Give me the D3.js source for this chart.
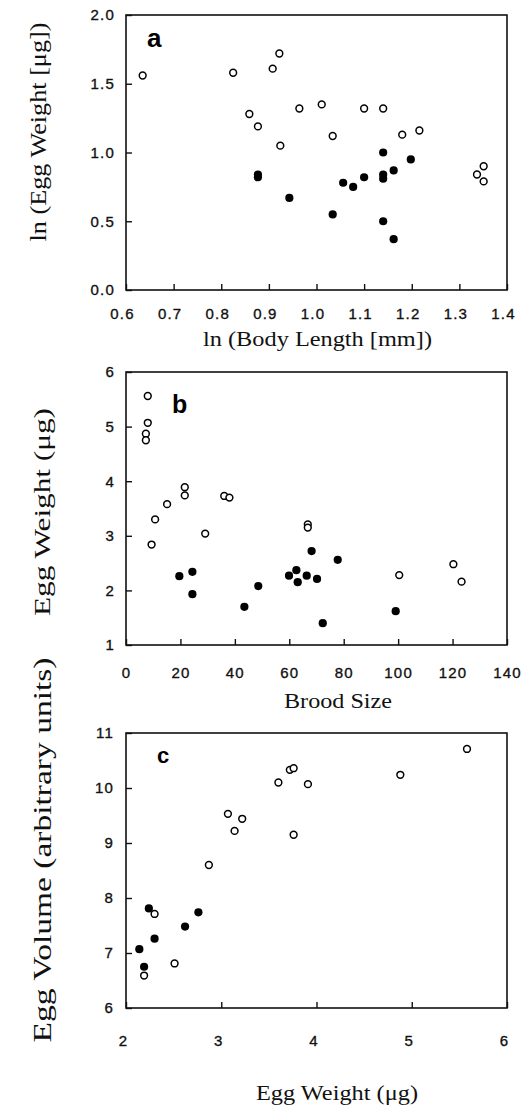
<!DOCTYPE html>
<html>
<head>
<meta charset="utf-8">
<script src="https://cdn.jsdelivr.net/npm/d3@7"></script>
<style>
  body { margin: 0; background: #fff; }
  svg { display: block; }
</style>
</head>
<body>
<svg id="fig" width="524" height="1109"></svg>
<script>
// ---- Panel a: ln(egg weight) against ln(body length) ----
const aOpenX   = [0.635, 0.825, 0.908, 0.922, 0.859, 0.877, 0.924, 0.964, 1.011, 1.034, 1.100, 1.140, 1.180, 1.216, 1.337, 1.351, 1.351];
const aOpenY   = [1.56, 1.58, 1.61, 1.72, 1.28, 1.19, 1.05, 1.32, 1.35, 1.12, 1.32, 1.32, 1.13, 1.16, 0.84, 0.90, 0.79];
const aFilledX = [0.877, 0.877, 0.943, 1.034, 1.056, 1.077, 1.100, 1.140, 1.140, 1.140, 1.140, 1.162, 1.162, 1.198];
const aFilledY = [0.84, 0.82, 0.67, 0.55, 0.78, 0.75, 0.82, 1.00, 0.84, 0.81, 0.50, 0.87, 0.37, 0.95];
const aXTicks  = [0.6, 0.7, 0.8, 0.9, 1.0, 1.1, 1.2, 1.3, 1.4];
const aYTicks  = [0.0, 0.5, 1.0, 1.5, 2.0];

// ---- Panel b: egg weight against brood size ----
const bOpenX   = [8, 8, 7.3, 7.3, 9.4, 10.7, 15.1, 21.6, 21.6, 29.1, 36.1, 38.0, 66.8, 66.8, 100.4, 120.3, 123.3];
const bOpenY   = [5.56, 5.07, 4.87, 4.75, 2.84, 3.30, 3.58, 3.89, 3.74, 3.04, 3.73, 3.70, 3.21, 3.15, 2.28, 2.48, 2.16];
const bFilledX = [19.6, 24.4, 24.4, 43.5, 48.6, 59.9, 62.6, 63.1, 66.4, 68.2, 70.2, 72.3, 77.8, 99.1];
const bFilledY = [2.26, 2.34, 1.93, 1.70, 2.08, 2.27, 2.37, 2.15, 2.27, 2.72, 2.21, 1.40, 2.56, 1.62];
const bXTicks  = [0, 20, 40, 60, 80, 100, 120, 140];
const bYTicks  = [1, 2, 3, 4, 5, 6];

// ---- Panel c: egg volume against egg weight ----
const cOpenX   = [5.58, 4.88, 3.72, 3.76, 3.60, 3.91, 3.07, 3.22, 3.14, 3.76, 2.87, 2.30, 2.51, 2.19];
const cOpenY   = [10.71, 10.24, 10.33, 10.36, 10.10, 10.07, 9.53, 9.44, 9.22, 9.15, 8.60, 7.71, 6.81, 6.59];
const cFilledX = [2.24, 2.30, 2.14, 2.19, 2.62, 2.76];
const cFilledY = [7.81, 7.26, 7.07, 6.75, 7.48, 7.74];
const cXTicks  = [2, 3, 4, 5, 6];
const cYTicks  = [6, 7, 8, 9, 10, 11];

const zip = (xs, ys) => xs.map((x, i) => [x, ys[i]]);

const panels = [
  {
    letter: "a", letterAt: [147, 47], letterSize: 26,
    box: { x0: 126, x1: 507, y0: 15, y1: 290 },
    xDomain: [0.6, 1.4], yDomain: [0, 2],
    xTicks: aXTicks, yTicks: aYTicks, fmt: d3.format(".1f"),
    xPad: 18, yPad: 11, xShift: -4,
    open: zip(aOpenX, aOpenY), filled: zip(aFilledX, aFilledY),
    xTitle: { text: "ln (Body Length [mm])", x: 317.5, y: 346, len: 229, size: 20 },
    yTitle: { text: "ln (Egg Weight [\u03bcg])", x: 46, y: 132, len: 219, size: 23 }
  },
  {
    letter: "b", letterAt: [172, 413], letterSize: 25,
    box: { x0: 126, x1: 507, y0: 372, y1: 645 },
    xDomain: [0, 140], yDomain: [1, 6],
    xTicks: bXTicks, yTicks: bYTicks, fmt: d3.format("d"),
    xPad: 22, yPad: 11, xShift: 0,
    open: zip(bOpenX, bOpenY), filled: zip(bFilledX, bFilledY),
    xTitle: { text: "Brood Size", x: 338, y: 708, len: 108, size: 22 },
    yTitle: { text: "Egg Weight (\u03bcg)", x: 50, y: 512, len: 208, size: 24 }
  },
  {
    letter: "c", letterAt: [157, 763], letterSize: 22,
    box: { x0: 126, x1: 507, y0: 733, y1: 1008 },
    xDomain: [2, 6], yDomain: [6, 11],
    xTicks: cXTicks, yTicks: cYTicks, fmt: d3.format("d"),
    xPad: 27, yPad: 12, xShift: -3,
    open: zip(cOpenX, cOpenY), filled: zip(cFilledX, cFilledY),
    xTitle: { text: "Egg Weight (\u03bcg)", x: 337, y: 1100, len: 162, size: 21 },
    yTitle: { text: "Egg Volume (arbitrary units)", x: 51, y: 850, len: 385, size: 25 }
  }
];

const svg = d3.select("#fig");
const tickFont = "'Liberation Sans', Arial, Helvetica, sans-serif";
const titleFont = "'Liberation Serif', 'Times New Roman', Times, serif";

panels.forEach(p => {
  const x = d3.scaleLinear().domain(p.xDomain).range([p.box.x0, p.box.x1]);
  const y = d3.scaleLinear().domain(p.yDomain).range([p.box.y1, p.box.y0]);
  const g = svg.append("g");

  // axes with inward ticks
  const xAxis = g.append("g")
    .attr("transform", `translate(0,${p.box.y1})`)
    .call(d3.axisBottom(x).tickValues(p.xTicks).tickFormat(p.fmt)
      .tickSizeInner(-6).tickSizeOuter(0).tickPadding(p.xPad));
  const yAxis = g.append("g")
    .attr("transform", `translate(${p.box.x0},0)`)
    .call(d3.axisLeft(y).tickValues(p.yTicks).tickFormat(p.fmt)
      .tickSizeInner(-6).tickSizeOuter(0).tickPadding(p.yPad));

  [xAxis, yAxis].forEach(ax => {
    ax.select(".domain").remove();
    ax.selectAll(".tick line").attr("stroke", "#111").attr("stroke-width", 1.4);
    ax.selectAll(".tick text")
      .attr("fill", "#111")
      .attr("stroke", "#111").attr("stroke-width", 0.35)
      .style("font-family", tickFont)
      .style("font-size", "15px")
      .style("letter-spacing", "1.2px");
  });
  xAxis.selectAll(".tick text").attr("dx", p.xShift);

  // frame
  g.append("rect")
    .attr("x", p.box.x0).attr("y", p.box.y0)
    .attr("width", p.box.x1 - p.box.x0).attr("height", p.box.y1 - p.box.y0)
    .attr("fill", "none").attr("stroke", "#111").attr("stroke-width", 1.6);

  // filled circles
  g.append("g").selectAll("circle").data(p.filled).join("circle")
    .attr("cx", d => x(d[0])).attr("cy", d => y(d[1]))
    .attr("r", 4.1).attr("fill", "#000");

  // open circles
  g.append("g").selectAll("circle").data(p.open).join("circle")
    .attr("cx", d => x(d[0])).attr("cy", d => y(d[1]))
    .attr("r", 3.4).attr("fill", "#fff")
    .attr("stroke", "#000").attr("stroke-width", 1.5);

  // panel letter
  g.append("text")
    .attr("x", p.letterAt[0]).attr("y", p.letterAt[1])
    .style("font-family", tickFont).style("font-weight", "bold")
    .style("font-size", p.letterSize + "px")
    .attr("fill", "#000")
    .text(p.letter);

  // axis titles
  g.append("text")
    .attr("x", p.xTitle.x).attr("y", p.xTitle.y)
    .attr("text-anchor", "middle")
    .attr("textLength", p.xTitle.len).attr("lengthAdjust", "spacingAndGlyphs")
    .style("font-family", titleFont).style("font-size", p.xTitle.size + "px")
    .attr("fill", "#111")
    .text(p.xTitle.text);

  g.append("text")
    .attr("transform", `translate(${p.yTitle.x},${p.yTitle.y}) rotate(-90)`)
    .attr("text-anchor", "middle")
    .attr("textLength", p.yTitle.len).attr("lengthAdjust", "spacingAndGlyphs")
    .style("font-family", titleFont).style("font-size", p.yTitle.size + "px")
    .attr("fill", "#111")
    .text(p.yTitle.text);
});
</script>
</body>
</html>
